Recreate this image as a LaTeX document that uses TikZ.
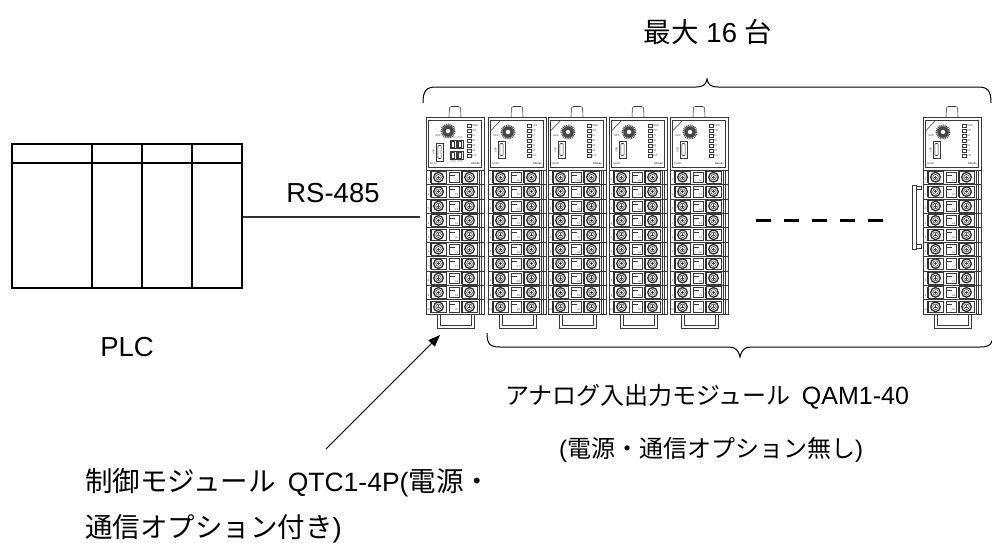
\documentclass[tikz,border=0pt]{standalone}
\usepackage{fontspec}
\setmainfont{Liberation Sans}
\newfontfamily\jp{Noto Sans CJK JP}
\usetikzlibrary{arrows.meta}
\newcommand\J[1]{{\jp #1}}
\tikzset{
  mline/.style={line width=0.55pt,black!78},
  tiny/.style={font=\fontsize{2.6}{3}\selectfont,inner sep=0pt,text=black!75},
  label/.style={font=\fontsize{24}{28}\selectfont,inner sep=0pt},
  biglabel/.style={font=\fontsize{27.5}{30}\selectfont,inner sep=0pt},
  plcline/.style={line width=2pt,black},
}
\newcommand\drawmod[3]{%
\begin{scope}[shift={(#1,0)}]
  \coordinate (#3) at (29,215);
  \draw[mline,rounded corners=2] (23,117) -- (23.5,106.5) -- (34.5,106.5) -- (35,117);
  \draw[mline] (0,117) rectangle (58,314);
  \draw[mline] (0,170) -- (58,170);
  \draw[mline] (2.5,120) rectangle (55.5,167);
  \ifnum#2=1
    % QTC1 face
    \fill[black!72] (22,131) circle (5.8);
    \draw[black!72,line width=1.8pt,dash pattern=on 0.9pt off 0.9pt] (22,131) circle (6.6);
    \fill[white] (22,131) circle (2.2);
    \node[tiny] at (12,135.5) {ADD};
    \draw[mline] (10,143) rectangle (17,161);
    \draw[mline,rounded corners=1] (11.8,145.5) rectangle (15.2,158.5);
    \node[tiny,rotate=90] at (7.5,152) {USB};
    \foreach \cx in {24,31}{\foreach \cy in {140,151}{
      \draw[mline] (\cx,\cy) rectangle (\cx+6,\cy+8.5);
      \draw[mline] (\cx+1.5,\cy+1.5) rectangle (\cx+4.5,\cy+7);}}
    \node[tiny] at (27,138) {CT3};
    \node[tiny] at (34,138) {CT1};
    \node[tiny] at (27,161.5) {CT4};
    \node[tiny] at (34,161.5) {CT2};
    \foreach \k/\t in {0/PWR,1/{T/R},2/O1,3/O2,4/O3,5/O4,6/EVT}{
      \draw[mline] (41,124+\k*5) rectangle (45,127.2+\k*5);
      \node[tiny,anchor=west] at (45.5,125.6+\k*5) {\t};}
    \node[tiny,anchor=west] at (4,164) {QTC1};
  \else
    % QAM1 face
    \draw[mline] (2.5,131) -- (13,120);
    \fill[black!72] (20,132) circle (5.8);
    \draw[black!72,line width=1.8pt,dash pattern=on 0.9pt off 0.9pt] (20,132) circle (6.6);
    \fill[white] (20,132) circle (2.2);
    \node[tiny] at (8,136) {ADD};
    \draw[mline] (10,141) rectangle (17,158);
    \draw[mline,rounded corners=1] (11.8,143.5) rectangle (15.2,155.5);
    \node[tiny,rotate=90] at (7.5,150) {USB};
    \foreach \k/\t in {0/PWR,1/{T/R},2/O1,3/O2,4/O3,5/O4,6/EVT}{
      \draw[mline] (39,124+\k*5) rectangle (43,127.2+\k*5);
      \node[tiny,anchor=west] at (43.5,125.6+\k*5) {\t};}
    \node[tiny,anchor=west] at (4,164) {QAM1};
  \fi
  \node[tiny,anchor=east,font=\fontsize{2.6}{3}\selectfont\bfseries] at (54,164) {Shinko};
  \foreach \i in {0,...,9}{
    \pgfmathsetmacro\yt{170+\i*14.4}
    \pgfmathtruncatemacro\na{\i+1}
    \pgfmathtruncatemacro\nb{\i+11}
    \draw[mline] (0,\yt+14.4) -- (58,\yt+14.4);
    \draw[mline] (5,\yt+1.4) rectangle (20,\yt+13);
    \draw[mline] (36,\yt+1.4) rectangle (51,\yt+13);
    \draw[line width=1.2pt,black!82] (5,\yt+1.4) -- (5,\yt+13);
    \draw[line width=1.2pt,black!82] (36,\yt+1.4) -- (36,\yt+13);
    \foreach \cx in {12.5,43.5}{
      \draw[line width=1.3pt,black!82] (\cx,\yt+7.2) circle (4.8);
      \draw[mline] (\cx,\yt+7.2) circle (2.8);
      \draw[mline] (\cx-1.6,\yt+7.2) -- (\cx+1.6,\yt+7.2) (\cx,\yt+5.6) -- (\cx,\yt+8.8);
    }
    \draw[mline] (23,\yt+2) rectangle (33,\yt+12.4);
    \draw[mline] (23,\yt+5) -- (29,\yt+5);
    \node[tiny] at (30.5,\yt+10.4) {\nb};
    \node[tiny] at (2.6,\yt+10) {\na};
  }
  \draw[mline] (53,170) -- (53,314);
  \draw[mline] (55.5,170) -- (55.5,314);
  \draw[mline] (11,314) -- (11,328) -- (48,328) -- (48,314);
  \draw[mline] (14,314) -- (14,325) -- (45,325) -- (45,314);
\end{scope}}

\begin{document}
\begin{tikzpicture}[x=1pt,y=-1pt]
\useasboundingbox[fill=white] (0,0) rectangle (992,542);

% PLC
\node[draw,plcline,minimum width=230pt,minimum height=144pt,inner sep=0pt] (plc) at (127,216) {};
\draw[line width=1.3pt] (12,163) -- (242,163);
\foreach \xx in {92,142,192} \draw[plcline] (\xx,144) -- (\xx,288);
\node[biglabel] (plclabel) at (127,347) {PLC};

% modules
\drawmod{426}{1}{m1}
\drawmod{488}{0}{m2}
\drawmod{548}{0}{m3}
\drawmod{609}{0}{m4}
\drawmod{670}{0}{m5}
\drawmod{923}{0}{m6}
% side bracket of last module
\draw[mline] (912,185) rectangle (916,249);
\draw[mline] (916,186) rectangle (921,189.5);
\draw[mline] (916,244.5) rectangle (921,248);

% RS-485 line
\coordinate (rsend) at (420,217);
\draw[line width=1.3pt,black!80] (plc.east |- 0,217) -- (rsend);
\node[biglabel] (rs) at (333,193) {RS-485};

% dashes
\coordinate (d1) at (756,220);
\coordinate (d2) at (883,220);
\draw[line width=3pt,dash pattern=on 15pt off 13pt] (d1) -- (d2);

% top brace
\draw[line width=1pt] (423,103) .. controls (423,91) and (426,87) .. (436,87) -- (696,87)
  .. controls (703,87) and (706,85) .. (707,79) .. controls (708,85) and (711,87) .. (718,87)
  -- (978,87) .. controls (988,87) and (991,91) .. (991,103);
\node[biglabel] (maxn) at (708,32) {\J{最大} 16 \J{台}};

% bottom brace
\draw[line width=1pt] (487,333) .. controls (487,344) and (490,347) .. (500,347) -- (728,347)
  .. controls (735,347) and (738,349) .. (740,357) .. controls (742,349) and (745,347) .. (752,347)
  -- (980,347) .. controls (990,347) and (993,344) .. (993,333);
\node[label] (qam1) at (707,397) {\J{アナログ入出力モジュール}\hspace{11pt}{\fontsize{25}{28}\selectfont QAM1-40}};
\node[label] (qam2) at (711,450) {(\J{電源・通信オプション無し})};

% QTC label and arrow
\node[biglabel,anchor=west] (qtc1) at (85,482.5) {\J{制御モジュール}\hspace{12pt}{\fontsize{26.5}{30}\selectfont QTC1-4P(}\J{電源・}};
\node[biglabel,anchor=west] (qtc2) at (85,529) {\J{通信オプション付き})};
\coordinate (astart) at (326,449);
\coordinate (aend) at (440,335);
\draw[line width=1pt,-{Triangle[length=12pt,width=9pt]}] (astart) -- (aend);
\end{tikzpicture}
\end{document}
